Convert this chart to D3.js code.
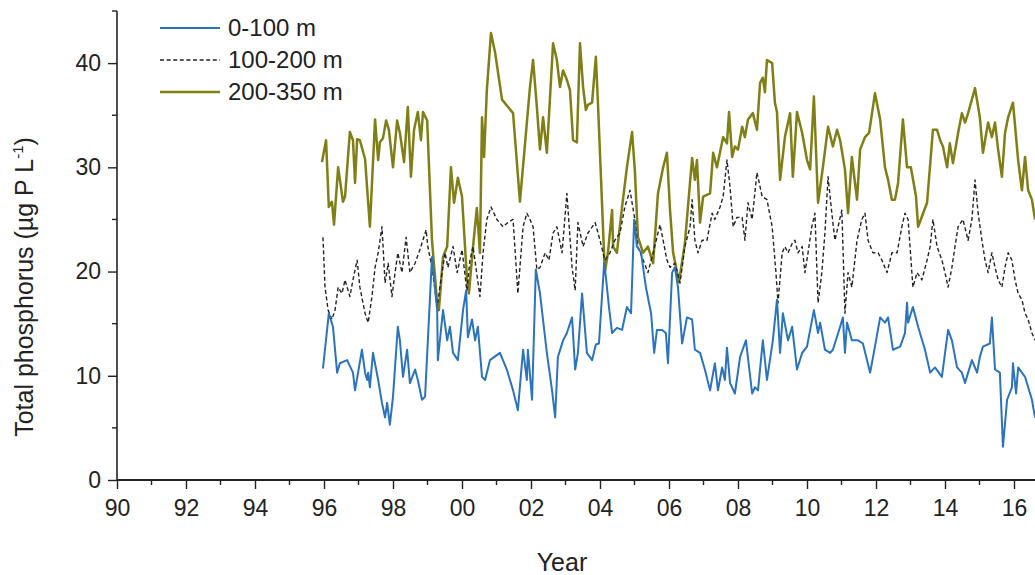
<!DOCTYPE html>
<html>
<head>
<meta charset="utf-8">
<script src="https://cdn.jsdelivr.net/npm/d3@7"></script>
<style>
  html, body { margin: 0; padding: 0; background: #fff; }
  svg { display: block; font-family: "Liberation Sans", Arial, sans-serif; }
</style>
</head>
<body>
<svg id="chart" width="1035" height="575"></svg>
<script>
// ---- data (decimal year, total phosphorus in ug P/L) ----
const seriesNames = ['0-100 m', '100-200 m', '200-350 m'];
const xTickYears = d3.range(1990, 2017, 2);
const yTickValues = [0, 10, 20, 30, 40];

const years0to100 = [1995.97,1996.14,1996.26,1996.38,1996.46,1996.67,1996.84,1996.90,1997.10,1997.19,
  1997.25,1997.28,1997.33,1997.42,1997.57,1997.68,1997.77,1997.83,1997.91,1998.00,
  1998.14,1998.20,1998.29,1998.41,1998.49,1998.64,1998.72,1998.84,1998.93,1999.13,
  1999.28,1999.30,1999.45,1999.57,1999.65,1999.74,1999.88,2000.03,2000.12,2000.17,
  2000.29,2000.38,2000.46,2000.58,2000.67,2000.81,2001.10,2001.30,2001.48,2001.62,
  2001.77,2001.88,2001.91,2002.03,2002.14,2002.26,2002.46,2002.61,2002.70,2002.78,
  2002.93,2003.04,2003.19,2003.28,2003.36,2003.48,2003.62,2003.77,2003.88,2003.97,
  2004.12,2004.17,2004.26,2004.35,2004.49,2004.64,2004.78,2004.90,2004.99,2005.07,
  2005.19,2005.33,2005.48,2005.57,2005.65,2005.80,2005.91,2005.97,2006.09,2006.17,
  2006.26,2006.38,2006.52,2006.67,2006.75,2006.90,2007.04,2007.19,2007.33,2007.42,
  2007.54,2007.62,2007.68,2007.77,2007.91,2008.06,2008.23,2008.41,2008.49,2008.58,
  2008.72,2008.84,2009.01,2009.13,2009.22,2009.30,2009.45,2009.57,2009.71,2009.86,
  2010.00,2010.20,2010.32,2010.38,2010.52,2010.67,2010.75,2010.96,2011.04,2011.10,
  2011.16,2011.30,2011.48,2011.62,2011.83,2011.97,2012.12,2012.26,2012.35,2012.49,
  2012.70,2012.84,2012.90,2012.93,2013.07,2013.22,2013.42,2013.57,2013.71,2013.91,
  2014.09,2014.20,2014.35,2014.49,2014.58,2014.67,2014.78,2014.93,2015.01,2015.10,
  2015.30,2015.36,2015.45,2015.59,2015.68,2015.80,2015.94,2015.97,2016.06,2016.12,
  2016.23,2016.32,2016.41,2016.52,2016.61];
const tp0to100 = [10.7,16,14.7,10.3,11.2,11.5,10.3,8.6,12.5,10.3,
  9.6,10.3,8.9,12.2,9.6,7.4,6.0,7.4,5.3,8.0,
  14.7,13.4,9.9,12.5,9.3,10.6,9.6,7.7,8.0,21.4,
  16.3,11.5,16.3,13.4,14.7,12.2,11.5,16.3,18.2,13.7,
  15.4,13.4,14.7,9.9,9.6,11.5,12.2,10.6,8.6,6.7,
  12.5,9.6,12.5,7.7,20.2,17.9,12.2,8.6,6.0,11.8,
  13.4,14.1,15.6,10.6,12.2,17.9,12.2,11.5,13.0,13.1,
  20.8,19.5,16.6,14.1,14.6,14.4,16.6,16.0,25.0,22.4,
  21.8,18.5,16.0,12.2,14.4,14.4,14.1,11.2,19.9,20.4,
  18.5,13.1,15.6,15.4,12.5,12.2,10.6,8.6,11.2,8.6,
  10.8,9.6,12.7,9.3,8.3,11.8,13.4,8.3,8.9,8.6,
  13.4,9.6,13.4,17.3,12.2,16.0,13.4,14.7,10.6,12.2,
  12.8,16.3,14.1,15.1,12.5,12.2,12.5,14.7,15.6,12.2,
  15.1,13.4,13.4,13.1,10.3,12.8,15.6,15.1,15.6,12.5,
  12.8,14.1,17.0,15.1,16.6,14.7,12.5,10.3,10.8,9.9,
  14.4,13.4,10.8,10.3,9.3,10.3,11.5,10.3,11.8,12.8,
  13.1,15.6,10.6,10.3,3.2,7.7,8.9,11.2,8.3,10.8,
  10.3,9.9,8.9,7.7,6.0];

const years100to200 = [1995.97,1996.03,1996.12,1996.23,1996.32,1996.41,1996.52,1996.61,1996.75,1996.84,
  1996.96,1997.04,1997.19,1997.28,1997.39,1997.48,1997.57,1997.68,1997.77,1997.86,
  1997.97,1998.06,1998.14,1998.26,1998.38,1998.49,1998.64,1998.78,1998.96,1999.01,
  1999.13,1999.28,1999.42,1999.51,1999.59,1999.74,1999.86,2000.00,2000.14,2000.23,
  2000.32,2000.52,2000.61,2000.72,2000.84,2001.01,2001.19,2001.33,2001.48,2001.62,
  2001.77,2001.88,2001.97,2002.06,2002.17,2002.26,2002.41,2002.52,2002.64,2002.75,
  2002.90,2003.04,2003.19,2003.28,2003.36,2003.51,2003.65,2003.86,2004.00,2004.14,
  2004.29,2004.43,2004.58,2004.72,2004.87,2005.01,2005.10,2005.25,2005.39,2005.54,
  2005.74,2005.83,2005.94,2006.03,2006.17,2006.32,2006.46,2006.61,2006.67,2006.75,
  2006.84,2006.96,2007.10,2007.25,2007.33,2007.48,2007.57,2007.68,2007.77,2007.86,
  2007.97,2008.12,2008.20,2008.29,2008.41,2008.55,2008.70,2008.84,2008.99,2009.10,
  2009.16,2009.28,2009.36,2009.45,2009.57,2009.65,2009.74,2009.86,2009.94,2010.03,
  2010.14,2010.23,2010.32,2010.43,2010.52,2010.61,2010.72,2010.81,2010.90,2011.01,
  2011.10,2011.19,2011.30,2011.45,2011.59,2011.68,2011.77,2011.91,2012.06,2012.17,
  2012.32,2012.46,2012.61,2012.75,2012.84,2012.93,2013.07,2013.19,2013.33,2013.48,
  2013.57,2013.65,2013.77,2013.91,2014.00,2014.09,2014.20,2014.29,2014.38,2014.52,
  2014.67,2014.78,2014.87,2014.96,2015.07,2015.16,2015.25,2015.36,2015.45,2015.54,
  2015.65,2015.74,2015.83,2015.94,2016.03,2016.12,2016.23,2016.32,2016.41,2016.52,
  2016.61];
const tp100to200 = [23.3,18.5,16.3,15.4,16.3,18.5,17.9,19.2,17.6,19.2,
  21.1,18.5,16.0,15.1,17.6,20.4,21.8,24.3,18.9,20.8,
  17.6,19.9,21.8,19.9,23.3,19.9,20.8,22.1,24.0,22.4,
  20.4,16.6,19.9,21.8,20.4,22.4,19.9,22.1,18.2,21.1,
  22.4,17.6,21.8,25.0,26.2,25.0,24.3,24.7,25.0,17.9,
  24.3,25.6,25.0,24.3,20.2,20.4,21.8,21.1,23.7,24.3,
  21.8,27.5,20.4,18.2,24.7,22.4,23.7,24.7,23.0,21.1,
  21.8,23.0,23.7,26.2,27.8,25.0,22.4,21.1,19.9,21.8,
  24.5,23.0,21.1,20.4,20.8,18.9,22.4,24.3,26.9,23.0,
  21.8,23.0,23.0,25.6,25.0,26.2,27.2,30.7,28.1,24.3,
  25.2,25.2,23.0,26.6,25.0,29.5,27.2,26.9,24.3,19.9,
  17.0,21.8,22.4,21.8,22.7,23.0,21.8,22.4,19.9,21.8,
  24.3,25.6,17.0,19.9,23.7,29.1,25.6,23.0,24.3,25.9,
  16.0,19.9,18.5,23.0,25.0,25.6,23.0,21.8,21.8,21.1,
  19.9,21.8,21.8,24.3,25.6,25.0,18.5,19.9,19.2,21.1,
  22.4,25.0,22.4,21.1,19.9,18.5,20.4,22.4,24.3,25.0,
  23.0,25.0,28.8,25.6,23.0,21.1,19.9,21.8,20.4,19.2,
  18.5,20.4,21.8,21.1,19.2,17.9,17.3,16.0,15.4,14.1,
  13.4];

const years200to350 = [1995.94,1996.06,1996.14,1996.23,1996.29,1996.41,1996.55,1996.61,1996.75,1996.84,
  1996.90,1996.96,1997.04,1997.19,1997.33,1997.48,1997.57,1997.62,1997.71,1997.80,
  1997.88,1998.00,1998.12,1998.20,1998.32,1998.43,1998.52,1998.61,1998.72,1998.81,
  1998.87,1998.99,1999.13,1999.28,1999.33,1999.45,1999.57,1999.68,1999.77,1999.88,
  2000.00,2000.14,2000.20,2000.32,2000.43,2000.52,2000.58,2000.64,2000.72,2000.84,
  2000.96,2001.16,2001.48,2001.68,2001.97,2002.06,2002.17,2002.26,2002.35,2002.46,
  2002.64,2002.75,2002.84,2002.93,2003.04,2003.13,2003.22,2003.33,2003.42,2003.51,
  2003.59,2003.65,2003.77,2003.88,2003.94,2004.14,2004.23,2004.35,2004.38,2004.49,
  2004.64,2004.78,2004.93,2005.01,2005.10,2005.25,2005.39,2005.54,2005.68,2005.83,
  2005.94,2006.03,2006.12,2006.29,2006.46,2006.67,2006.75,2006.81,2006.90,2006.99,
  2007.19,2007.28,2007.39,2007.57,2007.68,2007.74,2007.83,2007.91,2008.00,2008.12,
  2008.20,2008.29,2008.43,2008.55,2008.64,2008.72,2008.78,2008.84,2008.99,2009.07,
  2009.13,2009.22,2009.36,2009.51,2009.59,2009.71,2009.86,2010.00,2010.09,2010.20,
  2010.32,2010.46,2010.61,2010.75,2010.87,2010.96,2011.10,2011.19,2011.30,2011.45,
  2011.54,2011.68,2011.80,2011.97,2012.12,2012.26,2012.35,2012.46,2012.55,2012.64,
  2012.78,2012.90,2013.01,2013.16,2013.22,2013.48,2013.65,2013.77,2013.86,2013.94,
  2014.06,2014.14,2014.23,2014.38,2014.49,2014.58,2014.67,2014.87,2015.01,2015.10,
  2015.25,2015.36,2015.45,2015.54,2015.65,2015.74,2015.83,2015.97,2016.12,2016.23,
  2016.32,2016.41,2016.52,2016.61];
const tp200to350 = [30.5,32.6,26.2,26.7,24.5,30.0,26.7,27.2,33.4,32.6,
  28.5,32.7,32.6,30.8,24.3,34.6,30.7,32.4,32.8,34.5,
  33.6,30.0,34.5,33.3,30.5,35.8,29.1,33.6,35.3,32.6,
  35.3,34.5,23.0,17.0,16.3,21.4,22.4,30.0,26.6,29.0,
  27.2,19.5,17.9,22.4,26.1,21.8,34.8,31.0,37.4,42.9,
  41.0,36.5,35.2,26.7,37.7,40.3,35.8,31.7,34.8,31.4,
  41.9,40.3,37.7,39.3,38.4,37.4,32.6,32.4,41.9,37.7,
  35.5,36.0,36.2,40.6,36.2,19.9,21.8,25.9,22.4,21.8,
  26.2,30.0,33.4,29.7,23.3,21.8,22.4,20.8,27.5,30.0,
  31.4,25.9,21.8,19.0,22.7,30.9,28.8,30.7,24.7,27.2,
  27.5,31.4,30.0,32.9,32.3,35.3,31.0,32.0,31.7,33.9,
  32.9,34.6,35.2,33.6,38.1,38.6,37.2,40.3,40.0,36.2,
  35.3,28.8,32.9,35.2,29.1,35.3,33.3,30.7,29.8,36.8,
  26.6,30.0,33.9,32.0,33.6,32.6,29.8,25.6,31.0,26.9,
  31.7,32.9,33.3,37.1,34.6,30.0,28.8,26.9,26.9,28.5,
  34.6,30.0,30.0,27.2,24.3,26.6,33.6,33.6,32.6,32.0,
  30.0,32.3,30.4,33.3,35.2,34.3,35.2,37.6,34.8,31.4,
  34.3,32.9,34.3,31.7,29.1,33.3,34.8,36.2,30.7,27.8,
  31.0,27.8,26.9,25.0];

// ---- layout ----
const width = 1035, height = 575;
const svg = d3.select('#chart');

const x = d3.scaleLinear().domain([1990, 2016]).range([117, 1014]);
const y = d3.scaleLinear().domain([0, 45]).range([480, 11]);

const series = [
  { name: seriesNames[0], years: years0to100, vals: tp0to100, color: '#2b73bb', w: 2, dash: null },
  { name: seriesNames[1], years: years100to200, vals: tp100to200, color: '#222', w: 1.4, dash: '4,2.6' },
  { name: seriesNames[2], years: years200to350, vals: tp200to350, color: '#7f7f16', w: 2.5, dash: null }
];

const line = d3.line()
  .x(d => x(d[0]))
  .y(d => y(d[1]));

// draw deepest first so the surface series sits on top
[series[2], series[1], series[0]].forEach(s => {
  svg.append('path')
    .datum(d3.zip(s.years, s.vals))
    .attr('fill', 'none')
    .attr('stroke', s.color)
    .attr('stroke-width', s.w)
    .attr('stroke-linejoin', 'round')
    .attr('stroke-dasharray', s.dash)
    .attr('d', line);
});

// ---- x axis ----
const xAxis = d3.axisBottom(x)
  .tickValues(xTickYears)
  .tickSize(9)
  .tickPadding(11)
  .tickFormat(d => d3.format('02d')(d % 100));

const gx = svg.append('g')
  .attr('transform', `translate(0,${y(0)})`)
  .call(xAxis);
gx.select('.domain').remove();
gx.selectAll('.tick line').attr('stroke', '#222').attr('stroke-width', 1.4);
gx.selectAll('.tick text').attr('font-size', 23).attr('fill', '#222')
  .attr('font-family', '"Liberation Sans", Arial, sans-serif');

// minor ticks every odd year
gx.selectAll('.minor')
  .data(d3.range(1991, 2017, 2))
  .enter().append('line')
  .attr('x1', d => x(d)).attr('x2', d => x(d))
  .attr('y1', 0).attr('y2', 5)
  .attr('stroke', '#222').attr('stroke-width', 1.4);

gx.append('line')
  .attr('x1', x(1990)).attr('x2', width)
  .attr('y1', 0).attr('y2', 0)
  .attr('stroke', '#222').attr('stroke-width', 2);

// ---- y axis ----
const yAxis = d3.axisLeft(y)
  .tickValues(yTickValues)
  .tickSize(9)
  .tickPadding(7);

const gy = svg.append('g')
  .attr('transform', `translate(${x(1990)},0)`)
  .call(yAxis);
gy.select('.domain').remove();
gy.selectAll('.tick line').attr('stroke', '#222').attr('stroke-width', 1.4);
gy.selectAll('.tick text').attr('font-size', 23).attr('fill', '#222')
  .attr('font-family', '"Liberation Sans", Arial, sans-serif');

gy.selectAll('.minor')
  .data([5, 15, 25, 35, 45])
  .enter().append('line')
  .attr('x1', -5).attr('x2', 0)
  .attr('y1', d => y(d)).attr('y2', d => y(d))
  .attr('stroke', '#222').attr('stroke-width', 1.4);

gy.append('line')
  .attr('x1', 0).attr('x2', 0)
  .attr('y1', y(45)).attr('y2', y(0))
  .attr('stroke', '#222').attr('stroke-width', 1.6);

// ---- axis titles ----
svg.append('text')
  .attr('x', 562).attr('y', 571)
  .attr('text-anchor', 'middle')
  .attr('font-size', 25).attr('fill', '#222')
  .text('Year');

const yt = svg.append('text')
  .attr('transform', 'translate(33,287) rotate(-90)')
  .attr('text-anchor', 'middle')
  .attr('font-size', 25).attr('fill', '#222');
yt.append('tspan').text('Total phosphorus (µg P L');
yt.append('tspan').attr('dy', -10).attr('font-size', 15).text('-1');
yt.append('tspan').attr('dy', 10).text(')');

// ---- legend ----
const legend = svg.append('g').attr('transform', 'translate(160,28)');
series.forEach((s, i) => {
  const g = legend.append('g').attr('transform', `translate(0,${i * 32})`);
  g.append('line')
    .attr('x1', 0).attr('x2', 60)
    .attr('stroke', s.color)
    .attr('stroke-width', s.w)
    .attr('stroke-dasharray', s.dash);
  g.append('text')
    .attr('x', 68).attr('y', 0)
    .attr('dy', '0.35em')
    .attr('font-size', 24).attr('fill', '#222')
    .text(s.name);
});
</script>
</body>
</html>
